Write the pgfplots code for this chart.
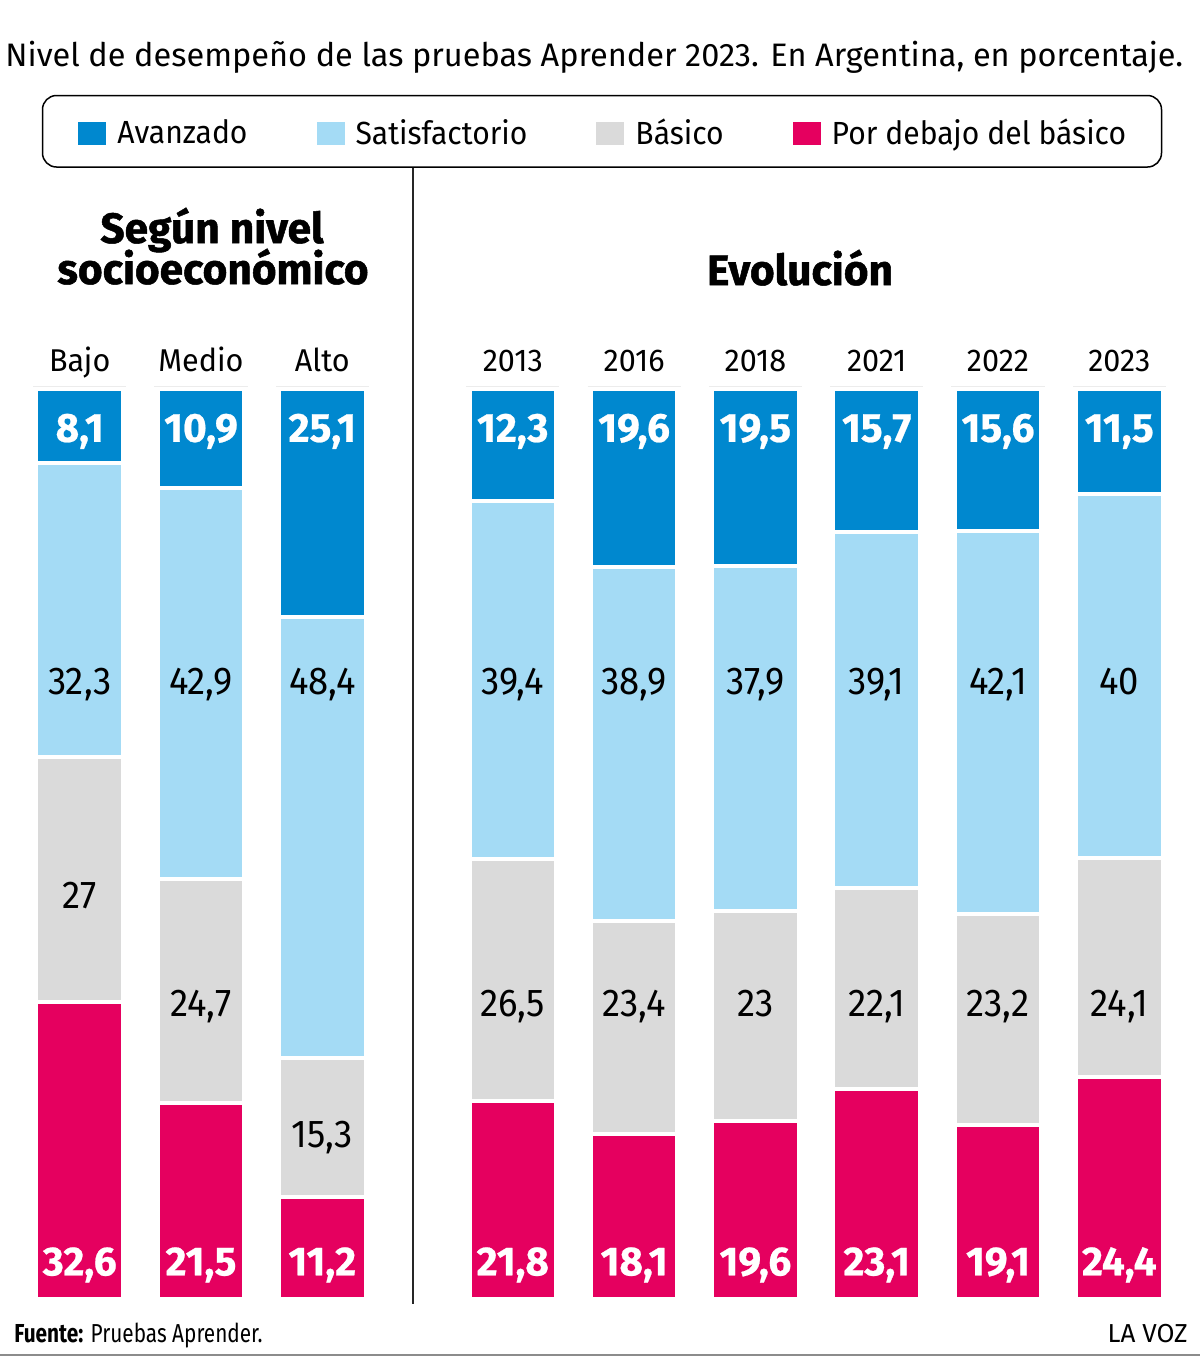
\documentclass[border=0pt]{standalone}
\usepackage{pgfplots}
\pgfplotsset{compat=1.18}
\usepackage{pgfplotstable}
\usepackage{fontspec}
\setmainfont{Fira Sans}
\newfontfamily\heavyfont{Fira Sans}[BoldFeatures={FakeBold=1.2}]
\newfontfamily\legfont{Fira Sans}[FakeStretch=0.94]
\newfontfamily\catfont{Fira Sans}[FakeStretch=0.97]
\newfontfamily\numfont{Fira Sans}[FakeStretch=0.94]
\newfontfamily\numboldfont{Fira Sans}[BoldFeatures={FakeBold=0.6}]
\newfontfamily\condfont{Fira Sans}[FakeStretch=0.8]

\definecolor{avz}{HTML}{0088CF}
\definecolor{sat}{HTML}{A4DBF5}
\definecolor{bas}{HTML}{DADADA}
\definecolor{deb}{HTML}{E5005F}
\definecolor{toprule}{HTML}{ECECEC}

% deb = por debajo del básico, bas = básico, sat = satisfactorio, avz = avanzado
% yd, yb, ys, ya = height at which each value is written
\pgfplotstableread{
x deb bas sat avz yd yb ys ya
0 32.6 27   32.3  8.1 2.6 42.9 66.4 94.2
1 21.5 24.7 42.9 10.9 2.6 31.1 66.4 94.2
2 11.2 15.3 48.4 25.1 2.6 16.6 66.4 94.2
}\nivel
\pgfplotstableread{
x deb bas sat avz yd yb ys ya
0 21.8 26.5 39.4 12.3 2.6 31.1 66.4 94.2
1 18.1 23.4 38.9 19.6 2.6 31.1 66.4 94.2
2 19.6 23.0 37.9 19.5 2.6 31.1 66.4 94.2
3 23.1 22.1 39.1 15.7 2.6 31.1 66.4 94.2
4 19.1 23.2 42.1 15.6 2.6 31.1 66.4 94.2
5 24.4 24.1 40.0 11.5 2.6 31.1 66.4 94.2
}\evol

\tikzset{
  vW/.style={text=white, font=\numboldfont\bfseries\fontsize{20.3pt}{23pt}\selectfont, anchor=base, inner sep=0pt},
  vK/.style={text=black, font=\numfont\fontsize{19.4pt}{22pt}\selectfont, anchor=base, inner sep=0pt},
}
\pgfplotsset{
  sq legend/.style={legend image code/.code={\fill[##1, draw=none] (0pt,-5.75pt) rectangle (14pt,5.75pt);}},
  frame/.style={
    scale only axis, height=455pt,
    ymin=0, ymax=100,
    axis line style={draw=none}, ytick=\empty,
    clip=false,
    /pgf/number format/use comma,
    /pgf/number format/assume math mode=true,
  },
  stackbars/.style={
    frame,
    ybar stacked, bar width=43.25pt,
    xtick=data, xticklabel pos=upper, major tick length=0pt,
    xticklabel style={font=\catfont\fontsize{15.75pt}{18pt}\selectfont, anchor=base, yshift=9pt},
    every axis plot/.append style={draw=white, line width=2pt},
    every axis plot post/.append style={sq legend},
  },
  labels/.style={frame, xtick=\empty},
  vals/.style={draw=none, mark=none, nodes near coords, point meta=explicit,
    nodes near coords style={#1}},
}

% thin rule above every bar of the current axis (bars 0..#1)
\newcommand\toprules[1]{%
  \pgfplotsinvokeforeach{0,...,#1}{%
    \draw[toprule, line width=0.6pt] ([xshift=-23.25pt]axis cs:##1,100.25) -- ([xshift=23.25pt]axis cs:##1,100.25);
  }%
}

\begin{document}
\begin{tikzpicture}
\begin{scope}[x=0.5pt, y=-0.5pt]
  \path[use as bounding box] (0,0) rectangle (1200,1356);
  \node[anchor=base west, inner sep=0pt, font=\fontsize{16.25pt}{19pt}\selectfont] at (5,66)
    {Nivel de desempeño de las pruebas Aprender 2023. En Argentina, en porcentaje.};
  \draw[line width=0.75pt, rounded corners=7pt] (42.5,95.5) rectangle (1161.5,167);
  \draw[line width=1pt, black!85] (413,168) -- (413,1304);
  \node[anchor=base, inner sep=0pt, font={\heavyfont\bfseries\fontsize{21.2pt}{24pt}\selectfont}] at (212,243) {Según nivel};
  \node[anchor=base, inner sep=0pt, font={\heavyfont\bfseries\fontsize{21.2pt}{24pt}\selectfont}] at (213,284) {socioeconómico};
  \node[anchor=base, inner sep=0pt, font={\heavyfont\bfseries\fontsize{21.2pt}{24pt}\selectfont}] at (800,285) {Evolución};
  \node[anchor=base west, inner sep=0pt, font=\condfont\fontsize{13pt}{16pt}\selectfont] at (14,1342) {\textbf{Fuente:} Pruebas Aprender.};
  \node[anchor=base east, inner sep=0pt, font=\fontsize{13pt}{16pt}\selectfont] at (1188,1342) {LA VOZ};
  \draw[black!45, line width=1pt] (0,1355) -- (1200,1355);
\end{scope}

% by socioeconomic level
\begin{axis}[stackbars, at={(9.525pt,-649.5pt)}, anchor=south west,
  width=181.95pt, xmin=-0.5, xmax=2.5,
  xticklabels={Bajo,Medio,Alto},
  legend columns=4, reverse legend,
  legend style={draw=none, fill=none, at={(0.1620,1.2813)}, anchor=west, inner sep=0pt,
    font=\legfont\fontsize{16pt}{19pt}\selectfont,
    nodes={inner sep=0pt},
    /tikz/every odd column/.append style={column sep=5.5pt},
    /tikz/every even column/.append style={column sep=34.5pt}},
]
  \addplot[fill=deb] table[x=x, y=deb] {\nivel};
  \addplot[fill=bas] table[x=x, y=bas] {\nivel};
  \addplot[fill=sat] table[x=x, y=sat] {\nivel};
  \addplot[fill=avz] table[x=x, y=avz] {\nivel};
  \legend{Por debajo del básico, Básico, Satisfactorio, Avanzado}
  \toprules{2}
\end{axis}
\begin{axis}[labels, at={(9.525pt,-649.5pt)}, anchor=south west,
  width=181.95pt, xmin=-0.5, xmax=2.5]
  \addplot[vals=vW] table[x=x, y=yd, meta=deb] {\nivel};
  \addplot[vals=vK] table[x=x, y=yb, meta=bas] {\nivel};
  \addplot[vals=vK] table[x=x, y=ys, meta=sat] {\nivel};
  \addplot[vals=vW] table[x=x, y=ya, meta=avz] {\nivel};
\end{axis}

% evolution over the years
\begin{axis}[stackbars, at={(226.075pt,-649.5pt)}, anchor=south west,
  width=363.9pt, xmin=-0.5, xmax=5.5,
  xticklabels={2013,2016,2018,2021,2022,2023},
]
  \addplot[fill=deb] table[x=x, y=deb] {\evol};
  \addplot[fill=bas] table[x=x, y=bas] {\evol};
  \addplot[fill=sat] table[x=x, y=sat] {\evol};
  \addplot[fill=avz] table[x=x, y=avz] {\evol};
  \toprules{5}
\end{axis}
\begin{axis}[labels, at={(226.075pt,-649.5pt)}, anchor=south west,
  width=363.9pt, xmin=-0.5, xmax=5.5]
  \addplot[vals=vW] table[x=x, y=yd, meta=deb] {\evol};
  \addplot[vals=vK] table[x=x, y=yb, meta=bas] {\evol};
  \addplot[vals=vK] table[x=x, y=ys, meta=sat] {\evol};
  \addplot[vals=vW] table[x=x, y=ya, meta=avz] {\evol};
\end{axis}
\end{tikzpicture}
\end{document}
